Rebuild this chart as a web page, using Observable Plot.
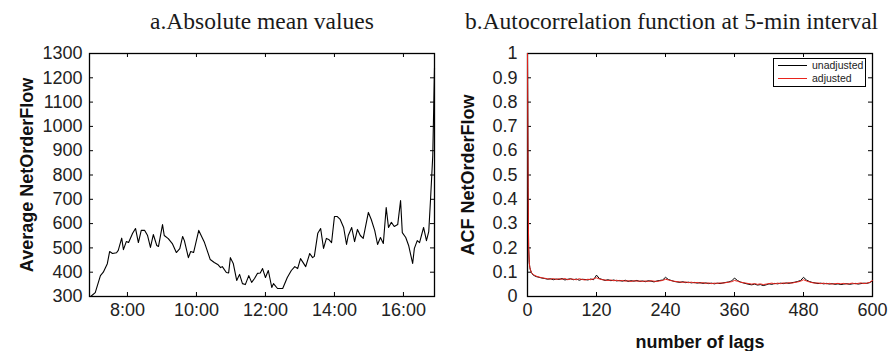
<!DOCTYPE html>
<html><head><meta charset="utf-8">
<script src="https://cdn.jsdelivr.net/npm/d3@7"></script>
<script src="https://cdn.jsdelivr.net/npm/@observablehq/plot@0.6"></script>
<style>
body{margin:0;background:#fff;}
#wrap{position:relative;width:889px;height:351px;overflow:hidden;font-family:"Liberation Sans",Arial,sans-serif;background:#fff;}
.title{position:absolute;font-family:"Liberation Serif","Times New Roman",serif;font-size:23.5px;color:#1a1a1a;white-space:nowrap;line-height:normal;}
.plot{position:absolute;top:30px;}
#legend{position:absolute;left:773px;top:58px;width:91px;height:27px;border:1px solid #000;background:#fff;font-size:10.5px;color:#222;}
#legend .ln{position:absolute;left:4px;width:29px;height:0;}
#legend .tx{position:absolute;left:38px;line-height:13px;white-space:nowrap;}
</style></head><body>
<div id="wrap">
<div class="title" style="left:150px;top:8px">a.Absolute mean values</div>
<div class="title" style="left:465px;top:8px">b.Autocorrelation function at 5-min interval</div>
<div class="plot" id="left" style="left:0"></div>
<div class="plot" id="right" style="left:445px"></div>
<div id="legend">
  <div class="ln" style="top:6px;border-top:1px solid #000"></div><div class="tx" style="top:0px">unadjusted</div>
  <div class="ln" style="top:19px;border-top:1px solid #e8231c"></div><div class="tx" style="top:13px">adjusted</div>
</div>
</div>
<script>
// ---- Panel a: average NetOrderFlow by time of day ----
const timeLabels = ["6:56","7:04","7:13","7:18","7:25","7:29","7:34","7:41","7:44","7:50","7:53","7:58","8:02","8:09","8:14","8:19","8:24","8:30","8:35","8:40","8:45","8:51","8:54","9:01","9:04","9:11","9:18","9:25","9:31","9:36","9:39","9:46","9:50","9:55","10:04","10:14","10:24","10:31","10:37","10:42","10:45","10:52","10:56","10:59","11:04","11:10","11:15","11:20","11:25","11:31","11:36","11:41","11:46","11:51","11:55","12:00","12:05","12:11","12:14","12:21","12:30","12:38","12:45","12:51","12:56","13:01","13:10","13:17","13:22","13:25","13:31","13:36","13:41","13:46","13:50","13:55","14:00","14:05","14:10","14:16","14:21","14:24","14:30","14:35","14:40","14:45","14:50","14:59","15:04","15:10","15:15","15:20","15:25","15:30","15:34","15:39","15:44","15:50","15:55","15:58","16:04","16:09","16:16","16:19","16:24","16:28","16:35","16:40","16:44","16:47","16:51","16:54"];
const meanValues = [300,316,386,400,435,485,477,480,490,540,493,526,522,560,580,522,572,572,551,502,555,510,506,596,551,538,518,481,497,547,530,460,485,481,572,522,452,440,432,419,423,399,397,460,436,366,391,353,349,386,358,374,395,397,415,378,407,337,353,333,333,378,407,423,415,456,423,477,460,465,560,580,498,539,535,522,629,629,617,584,514,551,584,526,576,551,539,646,617,572,514,543,518,666,584,605,588,596,695,563,543,510,436,498,530,522,584,530,567,695,880,1240];
const xTicksA = [8, 10, 12, 14, 16];
const yTicksA = [300,400,500,600,700,800,900,1000,1100,1200,1300];

// ---- Panel b: autocorrelation function ----
const earlyLags = [0, 1, 2, 3, 4, 5, 7];
const earlyAcf = [1, 0.45, 0.2, 0.14, 0.12, 0.11, 0.098];
const lagStart = 10, lagStep = 5;
const acfUnadjusted = [.088,.082,.079,.076,.074,.071,.073,.069,.072,.070,.074,.068,.071,.073,.069,.072,.067,.071,.070,.068,.072,.069,.088,.074,.070,.066,.069,.065,.068,.064,.066,.063,.067,.062,.065,.063,.066,.062,.064,.061,.065,.063,.060,.064,.066,.068,.079,.070,.066,.062,.060,.058,.061,.057,.059,.056,.058,.055,.057,.054,.056,.053,.055,.052,.055,.053,.056,.058,.060,.064,.076,.066,.060,.056,.053,.050,.048,.051,.047,.049,.045,.048,.052,.050,.054,.052,.055,.053,.056,.054,.057,.059,.062,.066,.079,.068,.062,.058,.056,.053,.055,.052,.054,.051,.053,.050,.052,.049,.051,.053,.050,.052,.054,.051,.053,.055,.054,.057,.064];
const acfAdjusted = [.090,.084,.080,.077,.075,.073,.071,.074,.070,.073,.071,.074,.069,.072,.071,.069,.073,.070,.068,.071,.069,.073,.077,.072,.069,.068,.066,.068,.065,.067,.064,.066,.063,.065,.062,.065,.063,.064,.062,.064,.062,.065,.063,.062,.064,.066,.071,.068,.065,.063,.061,.060,.058,.060,.057,.059,.056,.058,.055,.057,.054,.056,.053,.055,.054,.056,.055,.057,.059,.061,.066,.063,.059,.057,.055,.053,.051,.053,.050,.052,.049,.051,.053,.055,.052,.055,.053,.056,.054,.057,.055,.058,.060,.063,.069,.064,.060,.057,.055,.056,.053,.055,.052,.054,.051,.053,.054,.052,.054,.051,.053,.055,.052,.054,.056,.053,.055,.058,.066];
const xTicksB = [0, 120, 240, 360, 480, 600];
const yTicksB = [0, 0.1, 0.2, 0.3, 0.4, 0.5, 0.6, 0.7, 0.8, 0.9, 1];

// ---- build tables ----
const meanData = timeLabels.map((t, i) => {
  const [h, m] = t.split(":").map(Number);
  return {x: h + m / 60, y: meanValues[i]};
});
function acfRows(vals) {
  return earlyLags.map((l, i) => ({lag: l, acf: earlyAcf[i]}))
    .concat(vals.map((v, i) => ({lag: lagStart + lagStep * i, acf: v})));
}
const unadjRows = acfRows(acfUnadjusted);
const adjRows = acfRows(acfAdjusted);

const FONT = "Liberation Sans, Arial, Helvetica, sans-serif";
const TICK = 4;
const H = 321, MT = 23, MB = 55;
const fh = H - MT - MB;

function panel({width, ml, mr, xDomain, yDomain, xTicks, yTicks, xFmt, yFmt, padY, marks, ylabel, ylabelDx, xlabel}) {
  const fw = width - ml - mr;
  const extra = [];
  extra.push(Plot.text([ylabel], {frameAnchor: "left", textAnchor: "middle", lineAnchor: "middle", dx: ylabelDx, rotate: -90, text: d => d, fontWeight: "bold", fontSize: 18, fill: "#111"}));
  if (xlabel) extra.push(Plot.text([xlabel], {frameAnchor: "bottom", textAnchor: "middle", lineAnchor: "middle", dy: 46, text: d => d, fontWeight: "bold", fontSize: 18, fill: "#111"}));
  return Plot.plot({
    width, height: H, marginTop: MT, marginBottom: MB, marginLeft: ml, marginRight: mr,
    style: {fontFamily: FONT, fontSize: "18px", color: "#222", background: "white", overflow: "visible"},
    x: {domain: xDomain},
    y: {domain: yDomain},
    marks: [
      Plot.axisX(xTicks, {tickSize: 0, tickPadding: 7, tickFormat: xFmt, label: null, fontSize: 18}),
      Plot.axisY(yTicks, {tickSize: 0, tickPadding: padY, tickFormat: yFmt, label: null, fontSize: 18}),
      Plot.tickX(xTicks, {x: d => d, insetTop: fh - TICK, stroke: "#000"}),
      Plot.tickX(xTicks, {x: d => d, insetBottom: fh - TICK, stroke: "#000"}),
      Plot.tickY(yTicks, {y: d => d, insetRight: fw - TICK, stroke: "#000"}),
      Plot.tickY(yTicks, {y: d => d, insetLeft: fw - TICK, stroke: "#000"}),
      Plot.frame({stroke: "#000", strokeWidth: 1.3}),
      ...marks,
      ...extra
    ]
  });
}

document.getElementById("left").append(panel({
  width: 445, ml: 89, mr: 11,
  xDomain: [6.9, 16.9], yDomain: [300, 1300],
  xTicks: xTicksA, yTicks: yTicksA,
  xFmt: d => `${d}:00`, yFmt: d => String(d), padY: 7,
  marks: [Plot.line(meanData, {x: "x", y: "y", stroke: "#000", strokeWidth: 1.1})],
  ylabel: "Average NetOrderFlow", ylabelDx: -62
}));

document.getElementById("right").append(panel({
  width: 444, ml: 82, mr: 17,
  xDomain: [0, 600], yDomain: [0, 1],
  xTicks: xTicksB, yTicks: yTicksB,
  xFmt: d => String(d), yFmt: d => String(d), padY: 10,
  marks: [
    Plot.line(unadjRows, {x: "lag", y: "acf", stroke: "#000", strokeWidth: 1}),
    Plot.line(adjRows, {x: "lag", y: "acf", stroke: "#e8231c", strokeWidth: 1})
  ],
  ylabel: "ACF NetOrderFlow", ylabelDx: -59, xlabel: "number of lags"
}));
</script>
</body></html>
